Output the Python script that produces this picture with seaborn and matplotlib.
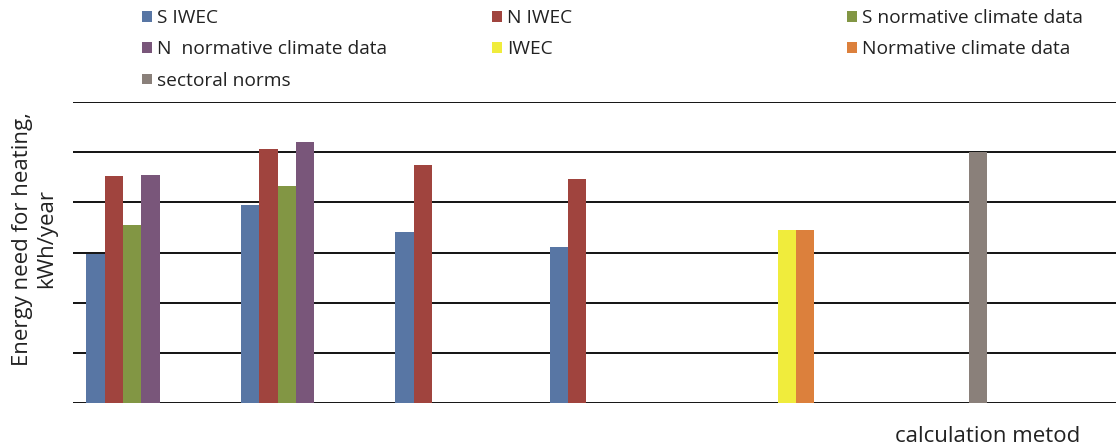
import matplotlib
matplotlib.use("Agg")
import matplotlib.pyplot as plt
import seaborn as sns
import pandas as pd
from matplotlib.patches import Patch

# ---- data (relative units; the chart has no y tick labels) ----
categories = ["1", "2", "3", "4", "5", "6"]
series = ["S IWEC", "N IWEC", "S normative climate data", "N  normative climate data",
          "IWEC", "Normative climate data", "sectoral norms"]
s_iwec = [2.97, 3.95, 3.40, 3.10, None, None]
n_iwec = [4.52, 5.06, 4.74, 4.47, None, None]
s_norm = [3.54, 4.33, None, None, None, None]
n_norm = [4.55, 5.20, None, None, None, None]
iwec = [None, None, None, None, 3.45, None]
norm_climate = [None, None, None, None, 3.45, None]
sectoral = [None, None, None, None, None, 5.00]

colors = ["#5876A4", "#A0443E", "#829644", "#79567A", "#F0EC3C", "#DC803C", "#8A807A"]

rows = []
for name, vals in zip(series, [s_iwec, n_iwec, s_norm, n_norm, iwec, norm_climate, sectoral]):
    for c, v in zip(categories, vals):
        if v is not None:
            rows.append({"category": c, "series": name, "value": v})
df = pd.DataFrame(rows)

sns.set_theme(style="white")
plt.rcParams["font.family"] = ["Open Sans", "DejaVu Sans"]

fig = plt.figure(figsize=(11.16, 4.47), dpi=100)
W, H = 1116, 447
ax = fig.add_axes([73.3 / W, (H - 402.7) / H, (W - 73.3) / W, (402.7 - 102.3) / H])

sns.barplot(data=df, x="category", y="value", hue="series", order=categories,
            hue_order=series, palette=colors, width=0.83, dodge=True,
            saturation=1, legend=False, ax=ax, linewidth=0, errorbar=None)

ax.set_xlim(-0.5, 6.25)
ax.set_ylim(0, 6)
ax.set_yticks([0, 1, 2, 3, 4, 5, 6])
ax.set_yticklabels([])
ax.set_xticks([])
ax.yaxis.grid(True, color="black", linewidth=1.3)
ax.set_axisbelow(True)
for s in ax.spines.values():
    s.set_visible(False)
ax.tick_params(left=False, bottom=False)
ax.set_xlabel("")
ax.set_ylabel("")

fig.text(35 / W, (H - 239) / H, "Energy need for heating,\nkWh/year", rotation=90,
         ha="center", va="center", fontsize=16, linespacing=1.2, color="#222222")
fig.text((893 + 1082) / 2 / W, (H - 436) / H, "calculation metod",
         ha="center", va="center", fontsize=16, color="#222222")

handles = [Patch(facecolor=c, edgecolor="none") for c in colors]
cols = [[0, 3, 6], [1, 4], [2, 5]]
xs = [142, 492, 847]
for idxs, x in zip(cols, xs):
    leg = fig.legend([handles[i] for i in idxs], [series[i] for i in idxs],
                     loc="upper left", bbox_to_anchor=(x / W, (H - 9) / H),
                     frameon=False, fontsize=13.8, handlelength=0.5, handleheight=0.5,
                     handletextpad=0.3, labelspacing=0.7, borderpad=0, borderaxespad=0)
    for t in leg.get_texts():
        t.set_color("#222222")

fig.savefig("out.png", dpi=100)
